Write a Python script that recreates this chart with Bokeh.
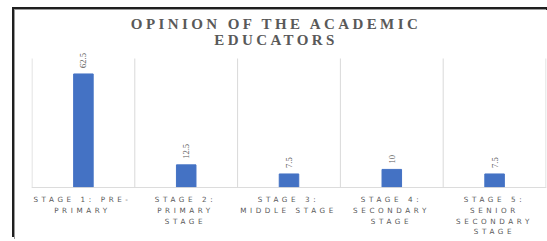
import numpy as np
from bokeh.plotting import figure
from bokeh.models import ColumnDataSource, Range1d, Div, LabelSet, Span, Spacer
from bokeh.layouts import column, row
from bokeh.embed import file_html
from bokeh.resources import INLINE

# ---- data ----
categories = [
    "STAGE 1: PRE-\nPRIMARY",
    "STAGE 2:\nPRIMARY\nSTAGE",
    "STAGE 3:\nMIDDLE STAGE",
    "STAGE 4:\nSECONDARY\nSTAGE",
    "STAGE 5:\nSENIOR\nSECONDARY\nSTAGE",
]
values = [62.5, 12.5, 7.5, 10, 7.5]
value_labels = ["62.5", "12.5", "7.5", "10", "7.5"]
title_lines = ["OPINION OF THE ACADEMIC", "EDUCATORS"]

positions = list(range(len(categories)))
edges = [i - 0.5 for i in range(len(categories) + 1)]
src = ColumnDataSource(dict(x=positions, top=values, label=value_labels))

TEXT = "#595959"
GRID = "#d9d9d9"
BAR = "#4472C4"

INNER_W = 532
FRAME_LEFT = 16
FRAME_RIGHT = 1
Y_MAX = 76.5
GRID_TOP = 71.0

# ---- title (HTML for letter spacing) ----
title = Div(
    text=(
        '<div style="width:%dpx;text-align:center;font-family:\'Liberation Serif\',serif;'
        'font-weight:bold;font-size:15px;letter-spacing:3.4px;color:%s;line-height:15.5px;'
        'padding-top:7px;white-space:nowrap;">%s</div>' % (INNER_W - 10, TEXT, "<br>".join(title_lines))
    ),
    width=INNER_W,
    height=38,
    margin=(0, 0, 0, 0),
)

# ---- chart ----
p = figure(
    width=INNER_W,
    height=140,
    output_backend="svg",
    toolbar_location=None,
    x_range=Range1d(edges[0] - 0.005, edges[-1] + 0.005),
    y_range=Range1d(-0.5, Y_MAX),
    min_border_left=FRAME_LEFT,
    min_border_right=FRAME_RIGHT,
    min_border_top=0,
    min_border_bottom=0,
    margin=(0, 0, 0, 0),
)
p.outline_line_color = None
p.xaxis.visible = False
p.yaxis.visible = False
p.xgrid.grid_line_color = None
p.ygrid.grid_line_color = None

# category separator lines
p.segment(x0=edges, y0=[0] * len(edges), x1=edges, y1=[GRID_TOP] * len(edges),
          line_color=GRID, line_width=1)
# baseline
p.add_layout(Span(location=0, dimension="width", line_color=GRID, line_width=1))

p.vbar(x="x", top="top", width=0.19, source=src, color=BAR)

labels = LabelSet(
    x="x", y="top", text="label", source=src,
    angle=np.pi / 2, text_align="left", text_baseline="middle",
    y_offset=6, text_font="Liberation Sans", text_font_size="8.5px",
    text_color=TEXT,
)
p.add_layout(labels)

# ---- category labels (HTML for letter spacing) ----
cells = "".join(
    '<div style="flex:1 1 0;text-align:center;white-space:nowrap;">%s</div>'
    % c.replace("\n", "<br>")
    for c in categories
)
cat_div = Div(
    text=(
        '<div style="display:flex;margin-left:%dpx;width:%dpx;padding-top:7px;'
        'font-family:\'DejaVu Sans\',sans-serif;font-size:7.2px;letter-spacing:3.6px;'
        'line-height:10.8px;color:%s;">%s</div>'
        % (FRAME_LEFT, INNER_W - FRAME_LEFT - FRAME_RIGHT, TEXT, cells)
    ),
    width=INNER_W,
    height=52,
    margin=(0, 0, 0, 0),
)

inner = column(
    title, p, cat_div,
    styles={"box-shadow": "-1px -1px 0 0 #9a9a9a, -3px -3px 0 0 #1f1f1f, 0 -3px 0 0 #1f1f1f"},
)
layout = column(
    Spacer(width=547, height=10),
    row(Spacer(width=15, height=10), inner),
)

open("out.html", "w").write(file_html(layout, INLINE))
